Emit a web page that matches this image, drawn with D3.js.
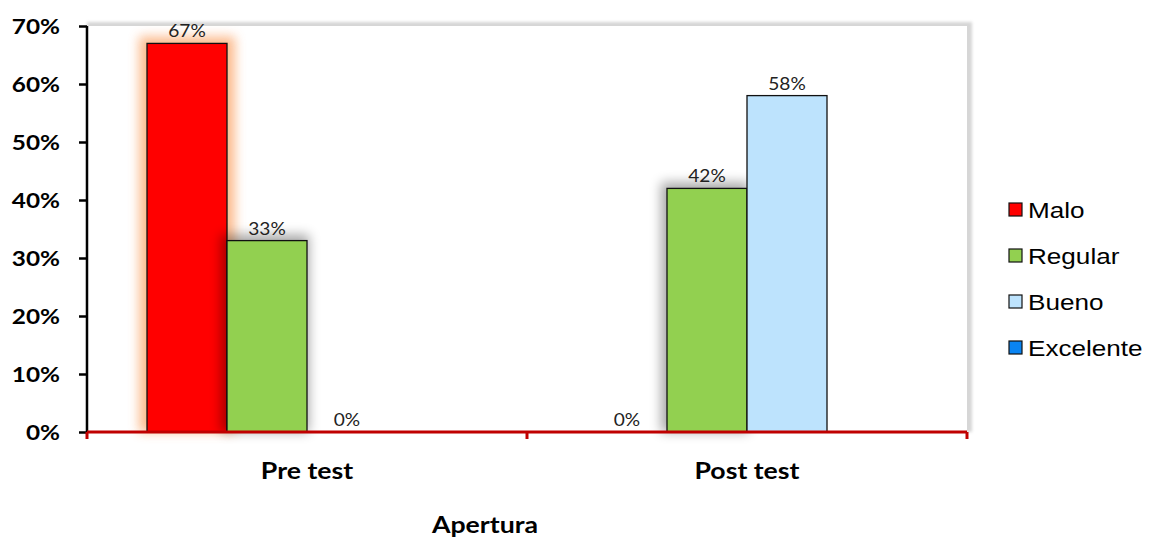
<!DOCTYPE html>
<html>
<head>
<meta charset="utf-8">
<script src="https://cdn.jsdelivr.net/npm/d3@7"></script>
<style>
  html, body { margin: 0; padding: 0; background: #fff; }
  svg { display: block; }
</style>
</head>
<body>
<svg id="chart" width="1153" height="539"></svg>
<script>
// Evaluation results for "Apertura", pre and post test
const groups = ["Pre test", "Post test"];
const levels = ["Malo", "Regular", "Bueno", "Excelente"];
const levelColors = ["#ff0000", "#92d050", "#bde3fd", "#0a84f2"];
const preValues = [0.67, 0.33, 0, null];
const postValues = [0, 0.42, 0.58, null];
const yTicks = [0, 0.1, 0.2, 0.3, 0.4, 0.5, 0.6, 0.7];
const axisTitle = "Apertura";

const svg = d3.select("#chart");
const plot = { left: 87, right: 967, top: 26, bottom: 432 };
const sx = 1.16; // horizontal text stretch

const defs = svg.append("defs");
const frameBlur = defs.append("filter").attr("id", "frameBlur")
  .attr("x", "-5%").attr("y", "-5%").attr("width", "110%").attr("height", "110%");
frameBlur.append("feGaussianBlur").attr("stdDeviation", 1.6);
const glowOrange = defs.append("filter").attr("id", "glowOrange")
  .attr("x", "-50%").attr("y", "-20%").attr("width", "200%").attr("height", "140%");
glowOrange.append("feGaussianBlur").attr("stdDeviation", 5.5);
const shadowGrey = defs.append("filter").attr("id", "shadowGrey")
  .attr("x", "-50%").attr("y", "-50%").attr("width", "200%").attr("height", "200%");
shadowGrey.append("feGaussianBlur").attr("stdDeviation", 6);

const x0 = d3.scaleBand().domain(groups).range([plot.left, plot.right]).paddingInner(0).paddingOuter(0);
const x1 = d3.scaleBand().domain(levels).range([0, x0.bandwidth()]).paddingOuter(0.75).paddingInner(0);
const y = d3.scaleLinear().domain([0, 0.7]).range([plot.bottom, plot.top]);

// plot area with soft grey frame
svg.append("rect")
  .attr("x", plot.left).attr("y", plot.top - 4)
  .attr("width", plot.right - plot.left + 5).attr("height", plot.bottom - plot.top + 4)
  .attr("fill", "#d6d6d6").attr("filter", "url(#frameBlur)");
svg.append("rect")
  .attr("x", plot.left).attr("y", plot.top)
  .attr("width", plot.right - plot.left).attr("height", plot.bottom - plot.top)
  .attr("fill", "#fff");

const series = [preValues, postValues];
const bars = [];
groups.forEach((g, gi) => {
  levels.forEach((lv, li) => {
    const v = series[gi][li];
    if (v === null) return;
    bars.push({ group: g, level: lv, li, value: v });
  });
});

// bars, each drawn after its own glow / shadow
const barLayer = svg.append("g");
bars.filter(d => d.value > 0).forEach(d => {
  const bx = x0(d.group) + x1(d.level), bw = x1.bandwidth();
  const top = y(d.value), h = y(0) - y(d.value);
  if (d.level === "Malo") {
    barLayer.append("rect").attr("x", bx - 8).attr("y", top - 7)
      .attr("width", bw + 16).attr("height", h + 7)
      .attr("fill", "#fbb07c").attr("opacity", 0.85).attr("filter", "url(#glowOrange)");
  } else if (d.level === "Regular") {
    barLayer.append("rect").attr("x", bx - 6).attr("y", top - 6)
      .attr("width", bw + 8).attr("height", h + 6)
      .attr("fill", "#000").attr("opacity", 0.34).attr("filter", "url(#shadowGrey)");
  }
  barLayer.append("rect")
    .attr("x", bx).attr("y", top).attr("width", bw).attr("height", h)
    .attr("fill", levelColors[d.li])
    .attr("stroke", "#111").attr("stroke-width", 1.3);
});

// data labels
svg.append("g").selectAll("text").data(bars).join("text")
  .attr("transform", d => `translate(${x0(d.group) + x1(d.level) + x1.bandwidth() / 2},${y(d.value) - 6}) scale(${sx},1)`)
  .attr("text-anchor", "middle")
  .attr("font-family", "Lato, 'Open Sans', sans-serif")
  .attr("font-size", 16.5)
  .attr("fill", "#222")
  .text(d => d3.format(".0%")(d.value));

// y axis
const yAxis = svg.append("g").attr("transform", `translate(${plot.left},0)`)
  .call(d3.axisLeft(y).tickValues(yTicks).tickFormat(d3.format(".0%")).tickSize(8).tickPadding(19));
yAxis.select(".domain").attr("stroke", "#000").attr("stroke-width", 2.5).attr("d", `M0,${plot.top}V${plot.bottom}`);
yAxis.selectAll(".tick line").attr("stroke", "#000").attr("stroke-width", 2.5);
yAxis.selectAll(".tick text")
  .attr("font-family", "Lato, sans-serif").attr("font-weight", "bold")
  .attr("font-size", 21).attr("fill", "#000")
  .attr("dy", "0.36em")
  .each(function () {
    const t = d3.select(this);
    const xx = +t.attr("x");
    t.attr("x", null).attr("transform", `translate(${xx},0) scale(${sx},1)`);
  });

// x axis
const xAxis = svg.append("g").attr("transform", `translate(0,${plot.bottom})`);
xAxis.append("path").attr("d", `M${plot.left},0H${plot.right}`)
  .attr("stroke", "#c00000").attr("stroke-width", 3).attr("fill", "none");
const boundaries = [plot.left, ...groups.map(g => x0(g) + x0.bandwidth())];
xAxis.selectAll("line.tk").data(boundaries).join("line").attr("class", "tk")
  .attr("x1", d => d).attr("x2", d => d).attr("y1", 0).attr("y2", 7)
  .attr("stroke", "#c00000").attr("stroke-width", 3);
xAxis.selectAll("text").data(groups).join("text")
  .attr("transform", d => `translate(${x0(d) + x0.bandwidth() / 2},47) scale(${sx},1)`)
  .attr("text-anchor", "middle")
  .attr("font-family", "Lato, sans-serif").attr("font-weight", "bold")
  .attr("font-size", 23).attr("fill", "#000")
  .text(d => d);

svg.append("text")
  .attr("transform", `translate(485,533) scale(${sx},1)`)
  .attr("text-anchor", "middle")
  .attr("font-family", "Lato, sans-serif").attr("font-weight", "bold")
  .attr("font-size", 23).attr("fill", "#000")
  .text(axisTitle);

// legend
const legend = svg.append("g").attr("transform", "translate(1009,210)");
const item = legend.selectAll("g").data(levels).join("g")
  .attr("transform", (d, i) => `translate(0,${i * 46})`);
item.append("rect").attr("x", 0).attr("y", -7).attr("width", 13).attr("height", 13)
  .attr("fill", (d, i) => levelColors[i]).attr("stroke", "#111").attr("stroke-width", 1.2);
item.append("text")
  .attr("transform", `translate(19,8) scale(${sx},1)`)
  .attr("font-family", "'Liberation Sans', Arial, sans-serif")
  .attr("font-size", 22.5).attr("fill", "#000")
  .text(d => d);
</script>
</body>
</html>
